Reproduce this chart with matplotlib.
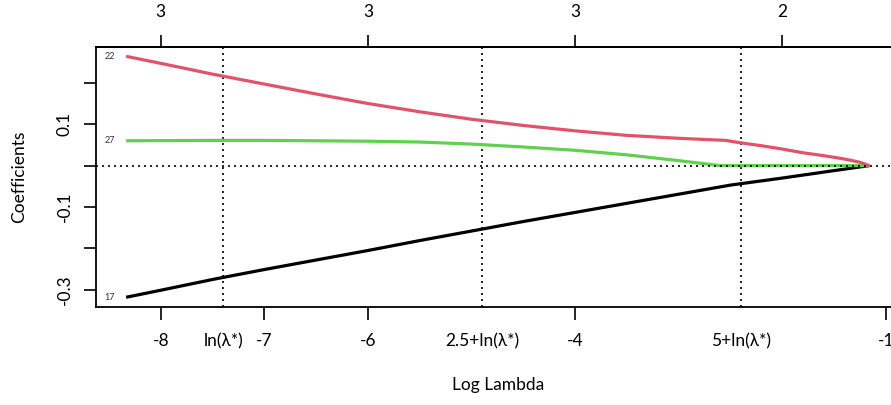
import matplotlib
matplotlib.use("Agg")
import matplotlib.pyplot as plt
import numpy as np

plt.rcParams['font.family'] = ['Lato', 'DejaVu Sans']

# ---- data ----
red_x = [-8.334, -8.0, -7.5, -7.0, -6.5, -6.0, -5.5, -5.0, -4.5, -4.0, -3.5, -3.0,
         -2.55, -2.4, -2.2, -2.0, -1.8, -1.6, -1.4, -1.25, -1.16]
red_y = [0.264, 0.247, 0.221, 0.197, 0.173, 0.150, 0.130, 0.112, 0.097, 0.084, 0.073, 0.066,
         0.061, 0.055, 0.048, 0.040, 0.031, 0.024, 0.016, 0.008, 0.0]

green_x = [-8.334, -7.5, -7.0, -6.5, -6.0, -5.5, -5.0, -4.5, -4.0, -3.5, -3.0, -2.6, -1.16]
green_y = [0.060, 0.061, 0.061, 0.060, 0.059, 0.057, 0.052, 0.045, 0.037, 0.026, 0.012, 0.0, 0.0]

black_x = [-8.334, -8.0, -7.5, -7.0, -6.5, -6.0, -5.5, -5.0, -4.5, -4.0, -3.5, -3.0,
           -2.5, -2.0, -1.5, -1.16]
black_y = [-0.318, -0.301, -0.275, -0.251, -0.228, -0.205, -0.181, -0.158, -0.135, -0.113,
           -0.091, -0.069, -0.047, -0.030, -0.012, 0.0]

series_labels = ["22", "27", "17"]
series_colors = ["#DF536B", "#61D04F", "#000000"]

ln_lambda_star = -7.396
ref_offsets = [0.0, 2.5, 5.0]
ref_labels = ["ln(λ*)", "2.5+ln(λ*)", "5+ln(λ*)"]

bottom_ticks = [-8, -7, -6, -4, -1]
top_ticks = [-8, -6, -4, -2]
top_labels = ["3", "3", "3", "2"]
y_ticks = [-0.3, -0.2, -0.1, 0.0, 0.1, 0.2]
y_labels = ["-0.3", "", "-0.1", "", "0.1", ""]

# ---- figure ----
W, H = 891, 405
fig = plt.figure(figsize=(W / 100, H / 100), dpi=100)
ax = fig.add_axes([96.4 / W, 1 - 306.8 / H, 802.7 / W, 260.2 / H])
ax.set_xlim(-8.621, -0.873)
ax.set_ylim(-0.341, 0.2875)

lw = 2.3
for xs, ys, c in [(black_x, black_y, series_colors[2]),
                  (green_x, green_y, series_colors[1]),
                  (red_x, red_y, series_colors[0])]:
    ax.plot(xs, ys, color=c, lw=lw, solid_capstyle='butt', zorder=3)

# labels at left end
for xs, ys, lab in [(red_x, red_y, series_labels[0]),
                    (green_x, green_y, series_labels[1]),
                    (black_x, black_y, series_labels[2])]:
    ax.annotate(lab, (xs[0], ys[0]), xytext=(-8, 0), textcoords='offset points',
                ha='right', va='center', fontsize=6.5, color='#333333')

# reference lines
for off in ref_offsets:
    ax.axvline(ln_lambda_star + off, color='black', lw=1.2, ls=(0, (1.2, 2.4)), zorder=2)
ax.axhline(0, color='black', lw=1.2, ls=(0, (1.2, 2.4)), zorder=4)

for s in ax.spines.values():
    s.set_linewidth(1.3)

# bottom axis
xt = bottom_ticks + [ln_lambda_star + o for o in ref_offsets]
xl = [str(t) for t in bottom_ticks] + ref_labels
ax.set_xticks(xt)
ax.set_xticklabels(xl, fontsize=12.5)
ax.tick_params(axis='x', which='major', length=9, width=1.2, pad=10)
for t in ax.xaxis.get_major_ticks()[len(bottom_ticks):]:
    t.tick1line.set_visible(False)

ax.set_yticks(y_ticks)
ax.set_yticklabels(y_labels, fontsize=12.5, rotation=90, va='center')
ax.tick_params(axis='y', length=9, width=1.2, pad=8)

ax.set_xlabel("Log Lambda", fontsize=12.5, labelpad=20)
ax.set_ylabel("Coefficients", fontsize=12.5, labelpad=21)

top = ax.secondary_xaxis('top')
top.set_xticks(top_ticks)
top.set_xticklabels(top_labels, fontsize=12.5)
top.tick_params(length=9, width=1.2, pad=10)
top.spines['top'].set_linewidth(1.3)

fig.savefig("out.png", dpi=100)
